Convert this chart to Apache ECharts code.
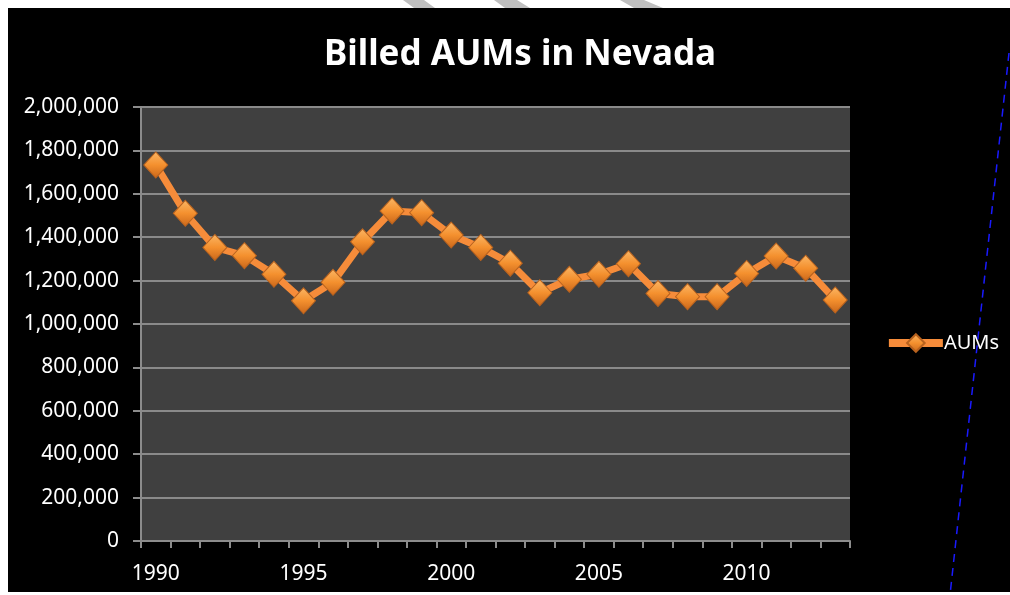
<!DOCTYPE html>
<html>
<head>
<meta charset="utf-8">
<script src="https://cdn.jsdelivr.net/npm/echarts@6/dist/echarts.min.js"></script>
<style>
    html, body { margin: 0; padding: 0; background: #ffffff; }
    #chart { width: 1010px; height: 595px; }
</style>
</head>
<body>
<div id="chart"></div>
<script>
// 年份
var years = ['1990', '1991', '1992', '1993', '1994', '1995', '1996', '1997', '1998', '1999',
    '2000', '2001', '2002', '2003', '2004', '2005', '2006', '2007', '2008', '2009',
    '2010', '2011', '2012', '2013'];
// AUMs
var aums = [1733000, 1510000, 1353000, 1315000, 1229000, 1107000, 1192000, 1379000, 1521000, 1513000,
    1410000, 1353000, 1280000, 1144000, 1206000, 1229000, 1278000, 1141000, 1126000, 1126000,
    1233000, 1313000, 1257000, 1111000];
var yTicks = [0, 2000000, 200000]; // min, max, interval

var font = 'Noto Sans';
var myChart = echarts.init(document.getElementById('chart'));

var diamondColor = new echarts.graphic.LinearGradient(0, 0, 0, 1, [
    { offset: 0, color: '#fbb766' },
    { offset: 0.5, color: '#f4902e' },
    { offset: 1, color: '#c9661a' }
]);

var option = {
    backgroundColor: '#ffffff',
    animation: false,
    title: {
        text: 'Billed AUMs in Nevada',
        left: 515,
        textAlign: 'center',
        top: 33,
        textStyle: { color: '#ffffff', fontFamily: font, fontWeight: 'bold', fontSize: 35 }
    },
    legend: {
        right: 6,
        top: 328,
        itemWidth: 54,
        itemHeight: 22,
        itemGap: 0,
        lineStyle: { width: 8 },
        textStyle: { color: '#ffffff', fontFamily: font, fontSize: 20, padding: [0, 0, 0, -4] },
        data: ['AUMs']
    },
    grid: {
        left: 141,
        right: 160,
        top: 107,
        bottom: 54,
        show: true,
        backgroundColor: '#404040',
        borderWidth: 0
    },
    xAxis: {
        type: 'category',
        data: years,
        boundaryGap: true,
        axisLine: { lineStyle: { color: '#8c8c8c', width: 2 } },
        axisTick: { show: true, interval: 0, alignWithLabel: false, length: 7, lineStyle: { color: '#8c8c8c', width: 2 } },
        axisLabel: { interval: 4, color: '#ffffff', fontFamily: font, fontSize: 21, margin: 23 }
    },
    yAxis: {
        type: 'value',
        min: yTicks[0],
        max: yTicks[1],
        interval: yTicks[2],
        axisLine: { show: true, lineStyle: { color: '#8c8c8c', width: 2 } },
        axisTick: { show: true, length: 8, lineStyle: { color: '#8c8c8c', width: 2 } },
        splitLine: { lineStyle: { color: '#8a8a8a', width: 2 } },
        axisLabel: {
            color: '#ffffff', fontFamily: font, fontSize: 21, margin: 22,
            formatter: function (v) { return v.toLocaleString('en-US'); }
        }
    },
    series: [
        {
            name: 'AUMs',
            type: 'line',
            data: aums,
            symbol: 'diamond',
            symbolSize: [24, 26],
            showSymbol: true,
            showAllSymbol: true,
            lineStyle: { color: '#f68c3a', width: 7 },
            itemStyle: { color: diamondColor, borderColor: '#b8621e', borderWidth: 1 },
            z: 3
        }
    ],
    graphic: [
        {
            // 黑色底板
            type: 'rect',
            silent: true,
            shape: { x: 8, y: 8, width: 1002, height: 584 },
            style: { fill: '#000000' },
            z: -10
        },
        // 顶部灰色斜纹
        { type: 'polygon', silent: true, z: -10, shape: { points: [[403, 0], [424, 0], [435, 8], [414, 8]] }, style: { fill: '#c0c0c0' } },
        { type: 'polygon', silent: true, z: -10, shape: { points: [[494, 0], [517, 0], [530, 8], [505, 8]] }, style: { fill: '#c0c0c0' } },
        { type: 'polygon', silent: true, z: -10, shape: { points: [[620, 0], [644, 0], [663, 8], [634, 8]] }, style: { fill: '#c0c0c0' } },
        {
            // 右侧蓝色虚线
            type: 'line',
            silent: true,
            shape: { x1: 1009, y1: 53, x2: 950, y2: 595 },
            style: { stroke: '#1a1aff', lineWidth: 1.5, lineDash: [8, 6] },
            z: 100
        }
    ]
};
myChart.setOption(option);
</script>
</body>
</html>
